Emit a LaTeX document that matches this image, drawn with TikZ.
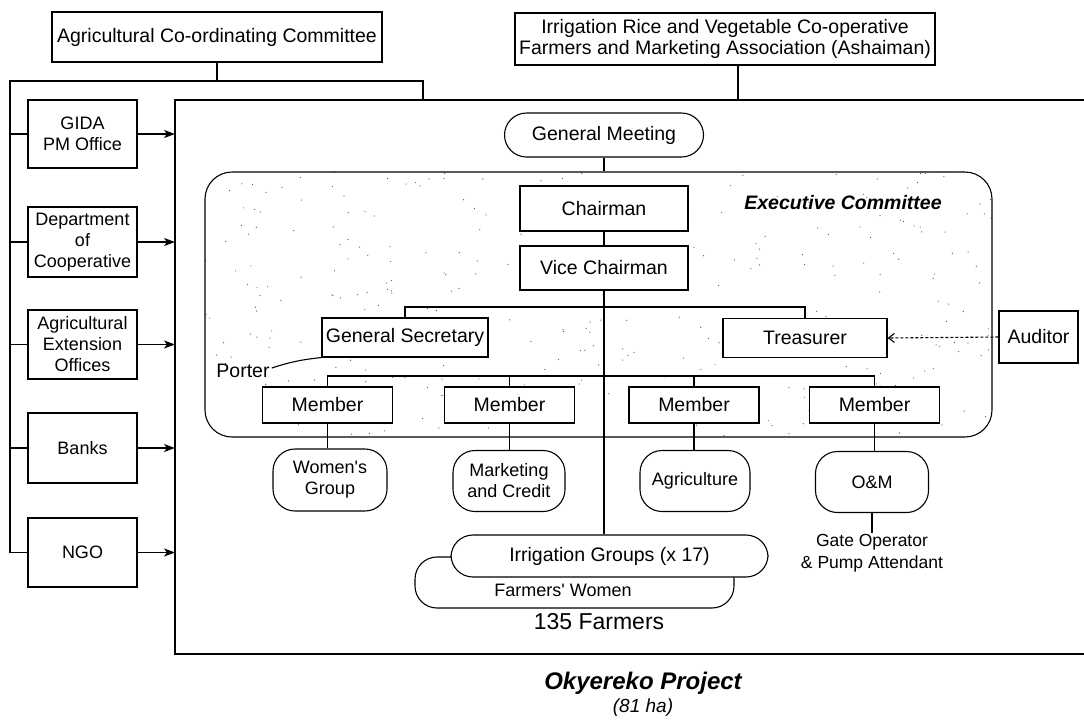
\documentclass[tikz,border=0pt]{standalone}
\usepackage{fontspec}
\setmainfont{Liberation Sans}
\usetikzlibrary{arrows.meta}
\begin{document}
\begin{tikzpicture}[x=1pt,y=-1pt,
  every node/.style={font=\fontsize{19.5}{21}\selectfont, inner sep=0pt},
  box/.style={draw, line width=1.1pt, fill=white, align=center},
  sidebox/.style={box, font=\fontsize{18}{21}\selectfont, minimum width=109pt},
  member/.style={box, minimum width=130pt, minimum height=36pt},
  pill/.style={draw, line width=1.1pt, fill=white, rounded corners=22pt, align=center,
    font=\fontsize{18}{21}\selectfont},
  link/.style={line width=1.1pt},
  feed/.style={link, -{Stealth[length=11pt,width=8pt,inset=3pt]}},
  audit/.style={link, dashed, dash pattern=on 3pt off 2pt, -{Straight Barb[length=6pt,width=9pt]}}
]
\useasboundingbox (0,0) rectangle (1084,724);

% upper bodies
\node[box, minimum width=330pt, minimum height=50pt] (acc) at (217,37)
  {Agricultural Co-ordinating Committee};
\node[box, minimum width=420pt, minimum height=52pt] (irva) at (725,39)
  {Irrigation Rice and Vegetable Co-operative\\Farmers and Marketing Association (Ashaiman)};

% project frame (open to the right)
\coordinate (fl) at (175,100);
\coordinate (busL) at (10,81);
\coordinate (busR) at (423,81);
\coordinate (irvaDrop) at (738,65);
\draw[link] (1084,100) -- (fl) -- (175,654) -- (1084,654);

% external bodies on the left
\node[sidebox, minimum height=68pt] (gida) at (82.5,134) {GIDA\\PM Office};
\node[sidebox, minimum height=70pt] (dept) at (82.5,242) {Department\\of\\Cooperative};
\node[sidebox, minimum height=69pt] (ext)  at (82.5,344.5) {Agricultural\\Extension\\Offices};
\node[sidebox, minimum height=70pt] (bank) at (82.5,448) {Banks};
\node[sidebox, minimum height=69pt] (ngo)  at (82.5,552.5) {NGO};

\draw[link] (acc.south) -- (acc.south |- busL);
\draw[link] (ngo.west -| busL) -- (busL) -- (busR) -- (busR |- fl);
\draw[link] (irvaDrop) -- (irvaDrop |- fl);
\foreach \b in {gida,dept,ext,bank,ngo}{
  \draw[link] (\b.west -| busL) -- (\b.west);
  \draw[feed] (\b.east) -- (\b.east -| fl);
}

% executive committee area with stipple
\begin{scope}
  \clip[rounded corners=27pt] (205,172) rectangle (992,437);
  \pgfmathsetseed{4242}
  \foreach \i in {1,...,320}{
    \pgfmathsetmacro\px{205+787*rnd}
    \pgfmathsetmacro\py{172+265*rnd}
    \fill[black!70] (\px,\py) circle (0.6pt);
  }
\end{scope}
\node[draw, line width=1.1pt, rounded corners=27pt, minimum width=787pt, minimum height=265pt]
  (exec) at (598.5,304.5) {};
\node[font=\fontsize{19.5}{21}\selectfont\bfseries\itshape] (execlabel) at (843,203)
  {Executive Committee};

\node[pill, minimum width=199pt, minimum height=44pt, font=\fontsize{19.5}{21}\selectfont]
  (gm) at (604,135) {General Meeting};
\node[box, minimum width=168pt, minimum height=45pt] (chair) at (604,208.5) {Chairman};
\node[box, minimum width=168pt, minimum height=44pt] (vice) at (604,268) {Vice Chairman};
\node[box, minimum width=166pt, minimum height=39pt] (gs) at (405,337.5) {General Secretary};
\node[box, minimum width=164pt, minimum height=39pt] (tr) at (805,338) {Treasurer};
\node[box, minimum width=79pt, minimum height=52pt] (aud) at (1038.5,337) {Auditor};
\node (porter) at (243,371) {Porter};

\node[member] (m1) at (327.5,405) {Member};
\node[member] (m2) at (509.5,405) {Member};
\node[member] (m3) at (694,405) {Member};
\node[member] (m4) at (874.5,405) {Member};

\node[pill, minimum width=114pt, minimum height=62pt] (wg) at (330,480) {Women\textquotesingle s\\Group};
\node[pill, minimum width=112pt, minimum height=61pt] (mc) at (509,481) {Marketing\\and Credit};
\node[pill, minimum width=110pt, minimum height=61pt] (ag) at (695,481) {Agriculture};
\node[pill, minimum width=113pt, minimum height=61pt] (om) at (872,482) {O\&M};
\node[align=center, font=\fontsize{17.5}{22}\selectfont, inner sep=1pt] (gate) at (872,553)
  {Gate Operator\\\& Pump Attendant};

\node[pill, minimum width=319pt, minimum height=51pt] (fw) at (574.5,582.5) {};
\node[font=\fontsize{18}{21}\selectfont] (fwtext) at (563,590) {Farmers\textquotesingle\ Women};
\node[pill, minimum width=317pt, minimum height=42pt, font=\fontsize{19.5}{21}\selectfont]
  (ig) at (609.5,556) {Irrigation Groups (x 17)};

\node[font=\fontsize{23}{26}\selectfont] (farmers) at (599,622) {135 Farmers};
\node[font=\fontsize{24}{28}\selectfont\bfseries\itshape] (title) at (643,683) {Okyereko Project};
\node[font=\fontsize{19}{22}\selectfont\itshape] (area) at (643,708) {(81 ha)};

% internal links
\coordinate (rowA) at (0,307);
\coordinate (rowB) at (0,376);
\draw[link] (gm.south) -- (exec.north -| gm.south);
\draw[link] (chair.south) -- (vice.north);
\draw[link] (vice.south) -- (vice.south |- ig.north);
\draw[link] (gs.north) -- (gs.north |- rowA) -- (tr.north |- rowA) -- (tr.north);
\draw[link] (m1.north) -- (m1.north |- rowB) -- (m4.north |- rowB) -- (m4.north);
\draw[link] (m2.north) -- (m2.north |- rowB);
\draw[link] (m3.north) -- (m3.north |- rowB);
\draw[link] (m1.south) -- (wg.north -| m1.south);
\draw[link] (m2.south) -- (mc.north -| m2.south);
\draw[link] (m3.south) -- (ag.north -| m3.south);
\draw[link] (m4.south) -- (om.north -| m4.south);
\draw[link] (om.south) -- (gate.north);
\draw[link] (porter.north east) ++(2,4) to[bend left=6] (gs.south west);
\draw[audit] (aud.west) -- (tr.east);
\end{tikzpicture}
\end{document}
